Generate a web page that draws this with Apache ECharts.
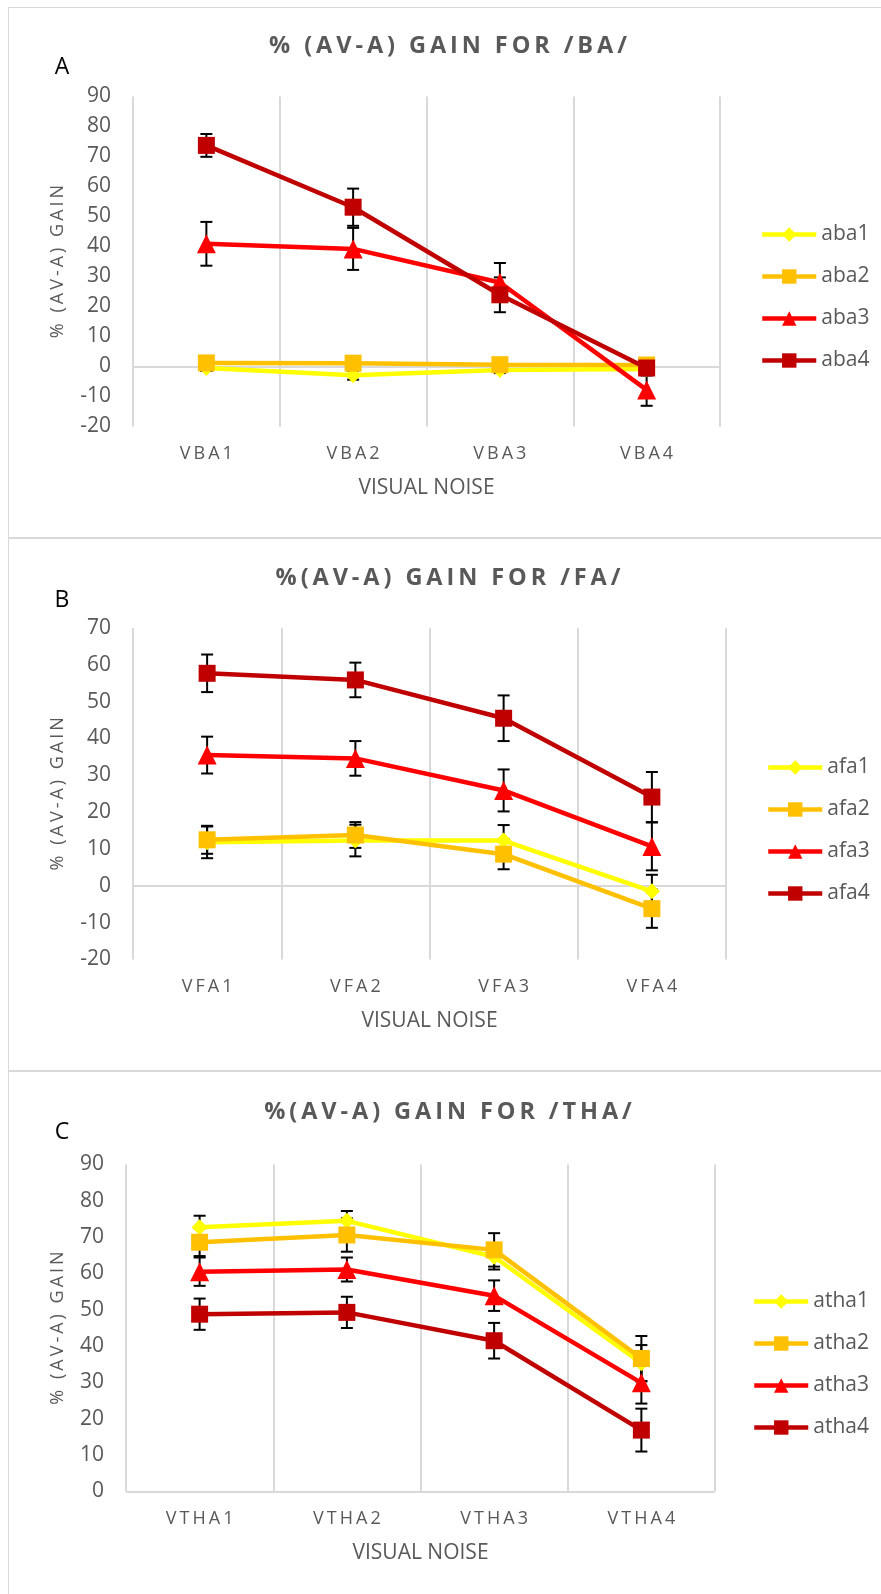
<!DOCTYPE html>
<html>
<head>
<meta charset="utf-8">
<script src="https://cdn.jsdelivr.net/npm/echarts@6/dist/echarts.min.js"></script>
<style>
    html, body { margin: 0; padding: 0; background: #fff; }
    #page { position: absolute; left: 0; top: 0; width: 881px; height: 1594px; overflow: hidden; }
    .frame { position: absolute; left: 8px; width: 1000px; border: 1px solid #d9d9d9; border-right: none; }
    #chart { position: absolute; left: 0; top: 0; width: 881px; height: 1594px; }
</style>
</head>
<body>
<div id="page">
    <div class="frame" style="top:7px;height:529px;"></div>
    <div class="frame" style="top:538px;height:531px;"></div>
    <div class="frame" style="top:1071px;height:600px;border-bottom:none;"></div>
    <div id="chart"></div>
</div>
<script>
// ---- data ----
const catsBA = ['VBA1', 'VBA2', 'VBA3', 'VBA4'];
const aba1 = [-0.5, -2.9, -1.2, -0.8];
const aba2 = [1.2, 1.1, 0.6, 0.5];
const aba3 = [40.9, 39.2, 28.0, -7.8];
const aba4 = [73.7, 53.1, 23.9, -0.5];
const aba1Err = [1.0, 1.5, 1.0, 1.0];
const aba2Err = [1.0, 1.0, 1.0, 1.0];
const aba3Err = [7.3, 7.0, 6.5, 5.3];
const aba4Err = [3.8, 6.2, 5.8, 2.5];

const catsFA = ['VFA1', 'VFA2', 'VFA3', 'VFA4'];
const afa1 = [11.8, 12.3, 12.3, -1.5];
const afa2 = [12.5, 13.8, 8.6, -6.2];
const afa3 = [35.5, 34.6, 25.9, 10.7];
const afa4 = [57.7, 55.9, 45.5, 24.1];
const afa1Err = [4.3, 4.3, 4.2, 4.5];
const afa2Err = [3.8, 3.5, 4.1, 5.2];
const afa3Err = [5.0, 4.7, 5.7, 6.5];
const afa4Err = [5.1, 4.7, 6.2, 6.8];

const catsTHA = ['VTHA1', 'VTHA2', 'VTHA3', 'VTHA4'];
const atha1 = [72.7, 74.5, 64.6, 35.3];
const atha2 = [68.6, 70.6, 66.5, 36.6];
const atha3 = [60.5, 61.1, 53.9, 29.9];
const atha4 = [48.8, 49.3, 41.5, 16.9];
const atha1Err = [3.2, 2.7, 3.5, 5.0];
const atha2Err = [3.8, 4.6, 4.6, 6.2];
const atha3Err = [3.9, 3.3, 4.2, 5.7];
const atha4Err = [4.3, 4.3, 4.9, 5.9];

const titles = ['% (AV-A) GAIN FOR /BA/', '%(AV-A) GAIN FOR /FA/', '%(AV-A) GAIN FOR /THA/'];
const letters = ['A', 'B', 'C'];
const yRanges = [[-20, 90], [-20, 70], [0, 90]];

const panels = [
    { cats: catsBA, names: ['aba1', 'aba2', 'aba3', 'aba4'], vals: [aba1, aba2, aba3, aba4], errs: [aba1Err, aba2Err, aba3Err, aba4Err] },
    { cats: catsFA, names: ['afa1', 'afa2', 'afa3', 'afa4'], vals: [afa1, afa2, afa3, afa4], errs: [afa1Err, afa2Err, afa3Err, afa4Err] },
    { cats: catsTHA, names: ['atha1', 'atha2', 'atha3', 'atha4'], vals: [atha1, atha2, atha3, atha4], errs: [atha1Err, atha2Err, atha3Err, atha4Err] }
];

// ---- layout / style ----
const layout = [
    { grid: { left: 133, top: 96.5, width: 587, height: 330 }, titleY: 46, letterY: 67, legend: { left: 760, top: 224 } },
    { grid: { left: 133, top: 628, width: 593, height: 331.5 }, titleY: 578, letterY: 600, legend: { left: 766, top: 757 } },
    { grid: { left: 126, top: 1164.5, width: 589, height: 327 }, titleY: 1112, letterY: 1132, legend: { left: 752, top: 1291 } }
];
const colors = ['#FFFF00', '#FFC000', '#FF0000', '#C00000'];
const symbols = ['diamond', 'rect', 'triangle', 'rect'];
const symbolSizes = [16, 17, 19, 17];
const FONT = '"Open Sans", "Noto Sans", sans-serif';
const gray = '#595959';

// letter spacing via narrow spaces
function spaced(s, sp) {
    return s.split('').join(sp || '\u2006');
}

function renderErr(params, api) {
    const x = api.value(0);
    const top = api.coord([x, api.value(2)]);
    const bot = api.coord([x, api.value(1)]);
    const w = 6;
    const st = { stroke: '#000', lineWidth: 2 };
    return {
        type: 'group',
        children: [
            { type: 'line', shape: { x1: top[0], y1: top[1], x2: bot[0], y2: bot[1] }, style: st },
            { type: 'line', shape: { x1: top[0] - w, y1: top[1], x2: top[0] + w, y2: top[1] }, style: st },
            { type: 'line', shape: { x1: bot[0] - w, y1: bot[1], x2: bot[0] + w, y2: bot[1] }, style: st }
        ]
    };
}

const grid = [], xAxis = [], yAxis = [], series = [], legend = [], graphic = [];

panels.forEach((p, k) => {
    const L = layout[k];
    grid.push(L.grid);
    xAxis.push({
        type: 'category',
        gridIndex: k,
        data: p.cats,
        axisLine: { show: false },
        axisTick: { show: false },
        splitLine: { show: true, lineStyle: { color: '#d9d9d9', width: 2 } },
        axisLabel: { color: gray, fontSize: 18, fontFamily: FONT, margin: 18, formatter: v => spaced(v) },
        name: 'VISUAL NOISE',
        nameLocation: 'middle',
        nameGap: 51,
        nameTextStyle: { color: gray, fontSize: 21, fontFamily: FONT }
    });
    yAxis.push({
        type: 'value',
        gridIndex: k,
        min: yRanges[k][0],
        max: yRanges[k][1],
        interval: 10,
        axisLine: { show: false },
        axisTick: { show: false },
        splitLine: { show: false },
        axisLabel: { color: gray, fontSize: 21, fontFamily: FONT, margin: 22 },
        name: spaced('% (AV-A) GAIN'),
        nameLocation: 'middle',
        nameGap: L.grid.left - 67,
        nameTextStyle: { color: gray, fontSize: 18, fontFamily: FONT }
    });

    p.names.forEach((name, i) => {
        series.push({
            name: name,
            type: 'line',
            xAxisIndex: k,
            yAxisIndex: k,
            data: p.vals[i],
            symbol: symbols[i],
            symbolSize: symbolSizes[i],
            lineStyle: { color: colors[i], width: 4.5 },
            itemStyle: { color: colors[i] },
            z: 3,
            emphasis: { disabled: true },
            markLine: i === 0 ? {
                silent: true,
                symbol: 'none',
                z: 1,
                label: { show: false },
                lineStyle: { color: '#d9d9d9', width: 2, type: 'solid' },
                data: [{ yAxis: 0 }]
            } : undefined
        });
    });
    p.names.forEach((name, i) => {
        series.push({
            name: name + ' err',
            type: 'custom',
            xAxisIndex: k,
            yAxisIndex: k,
            renderItem: renderErr,
            encode: { x: 0, y: [1, 2] },
            data: p.vals[i].map((v, j) => [j, v - p.errs[i][j], v + p.errs[i][j]]),
            z: 2,
            silent: true
        });
    });

    legend.push({
        orient: 'vertical',
        left: L.legend.left,
        top: L.legend.top,
        padding: 0,
        itemWidth: 54,
        itemHeight: 18,
        itemGap: 21,
        selectedMode: false,
        lineStyle: { width: 4.5 },
        data: p.names,
        textStyle: { color: gray, fontSize: 21, fontFamily: FONT }
    });

    graphic.push({
        type: 'text',
        x: 448,
        y: L.titleY,
        style: { text: spaced(titles[k]), font: 'bold 23.5px ' + FONT, fill: gray, align: 'center', verticalAlign: 'middle' }
    });
    graphic.push({
        type: 'text',
        x: 62,
        y: L.letterY,
        style: { text: letters[k], font: '23px ' + FONT, fill: '#000', align: 'center', verticalAlign: 'middle' }
    });
});

const myChart = echarts.init(document.getElementById('chart'));
myChart.setOption({
    animation: false,
    backgroundColor: 'transparent',
    grid: grid,
    xAxis: xAxis,
    yAxis: yAxis,
    legend: legend,
    graphic: graphic,
    series: series
});
</script>
</body>
</html>
